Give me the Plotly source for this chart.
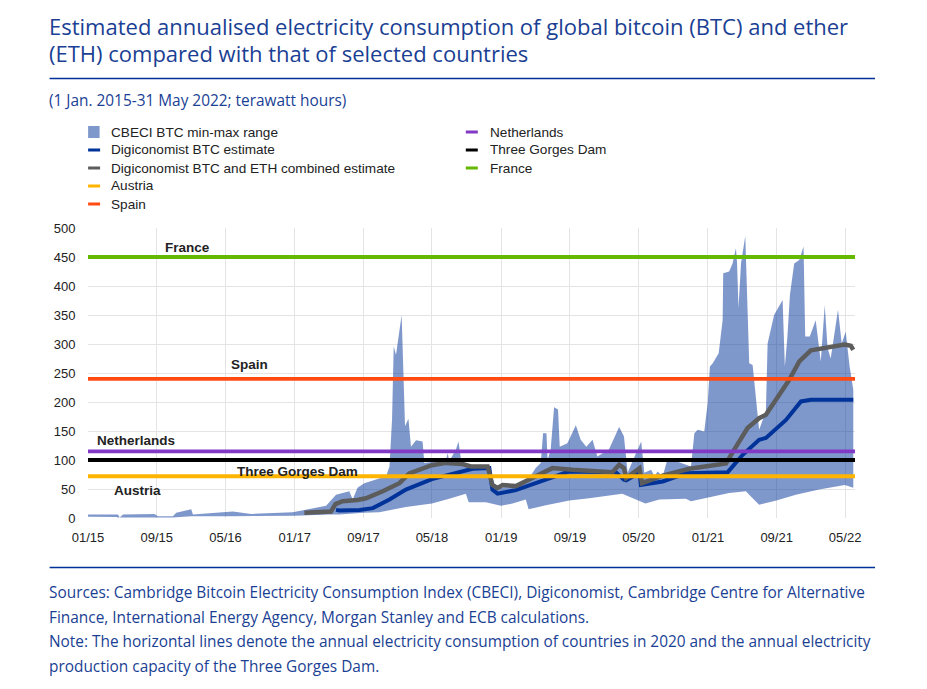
import pandas as pd
import plotly.graph_objects as go

START = pd.Timestamp("2015-01-01")
def to_dates(days):
    return [START + pd.Timedelta(days=d) for d in days]

upper_days = [0,106,112,124,235,247,300,312,365,371,512,577,724,818,842,877,924,936,953,977,1054,1066,1075,1081,1089,1109,1115,1121,1133,1142,1160,1183,1189,1266,1272,1277,1301,1310,1319,1342,1419,1430,1548,1583,1601,1609,1621,1625,1636,1648,1662,1668,1695,1725,1742,1762,1784,1801,1842,1878,1895,1908,1938,1956,1967,1991,2003,2014,2032,2050,2132,2144,2156,2179,2191,2199,2209,2230,2244,2246,2267,2279,2291,2295,2300,2309,2324,2332,2338,2350,2364,2373,2397,2403,2426,2456,2464,2473,2482,2497,2515,2530,2536,2552,2573,2591,2605,2615,2626,2652,2665,2679,2693,2706]
upper_vals = [6,6,1,6,7,3,3,9,15,6,11,7,10,19,21,40,46,32,52,60,72,89,169,296,281,350,250,158,171,123,134,132,95,100,112,98,118,132,100,86,86,49,60,86,95,146,146,100,118,191,187,123,129,160,135,123,135,106,118,157,141,78,112,132,78,83,72,80,72,103,89,146,152,149,198,261,267,284,341,422,425,439,465,440,362,439,486,370,267,264,187,152,184,301,350,376,261,313,385,439,445,468,313,313,341,270,367,293,275,359,301,321,261,221]
lower_days = [0,240,300,365,512,731,850,889,974,1030,1066,1124,1216,1277,1336,1346,1407,1460,1501,1548,1558,1619,1702,1772,1889,1926,1971,2020,2114,2132,2193,2267,2326,2344,2373,2434,2503,2585,2676,2706]
lower_vals = [2,1,1,3,3,4,6,6,9,10,13,19,25,33,42,27,27,21,25,32,15,22,30,34,42,34,25,32,33,29,36,43,46,37,23,30,40,49,57,52]
blue_days = [877,889,960,1007,1066,1124,1216,1277,1360,1419,1430,1448,1513,1583,1642,1700,1866,1895,1903,1950,1955,2032,2114,2262,2315,2373,2397,2468,2521,2556,2706]
blue_vals = [14,13,14,17,32,49,67,75,85,86,49,42,48,60,71,80,79,66,65,78,57,63,77,79,109,135,138,169,201,204,204]
grey_days = [765,859,875,900,953,983,1042,1101,1136,1216,1266,1324,1354,1413,1430,1448,1466,1513,1583,1642,1713,1854,1878,1895,1903,1950,1959,2032,2126,2256,2285,2332,2373,2397,2479,2515,2556,2609,2676,2697,2706]
grey_vals = [9,11,24,29,31,34,46,60,77,91,95,93,89,89,57,52,57,55,72,86,83,79,92,86,69,86,60,73,85,94,118,155,172,178,238,270,289,294,299,297,290]

tick_dates = ["2015-01-01","2015-09-01","2016-05-01","2017-01-01","2017-09-01","2018-05-01","2019-01-01","2019-09-01","2020-05-01","2021-01-01","2021-09-01","2022-05-01"]
tick_labels = ["01/15","09/15","05/16","01/17","09/17","05/18","01/19","09/19","05/20","01/21","09/21","05/22"]

reference_names = ["Austria","Spain","Netherlands","Three Gorges Dam","France"]
reference_vals = [72,240,115,100,450]
reference_cols = ["#ffb400","#ff4b12","#8139c6","#000000","#65b800"]
span = ["2015-01-01","2022-06-05"]

INK = "#1a3f94"
TXT = "#222222"
L, R, T, B = 88.4, 855, 228, 518
def px(x): return (x - L) / (R - L)
def py(y): return (B - y) / (B - T)

fig = go.Figure()
ux = to_dates(upper_days); lx = to_dates(lower_days)
fig.add_trace(go.Scatter(x=ux+lx[::-1], y=upper_vals+lower_vals[::-1], mode="lines", fill="toself",
    fillcolor="rgba(0,50,153,0.5)", line=dict(width=0), name="CBECI BTC min-max range"))
fig.add_trace(go.Scatter(x=to_dates(blue_days), y=blue_vals, mode="lines", line=dict(color="#003399", width=4),
    name="Digiconomist BTC estimate"))
fig.add_trace(go.Scatter(x=to_dates(grey_days), y=grey_vals, mode="lines", line=dict(color="#5c5c5c", width=4.5),
    name="Digiconomist BTC and ETH combined estimate"))
for n, v, c in zip(reference_names, reference_vals, reference_cols):
    fig.add_trace(go.Scatter(x=span, y=[v, v], mode="lines", line=dict(color=c, width=3.8), name=n))

fig.update_layout(
    width=927, height=689, paper_bgcolor="white", plot_bgcolor="white", showlegend=False,
    margin=dict(l=L, r=927-R, t=T, b=689-B), hovermode=False,
    font=dict(family="Liberation Sans", size=13, color=TXT),
    xaxis=dict(type="date", range=["2015-01-01","2022-06-05"], tickvals=tick_dates, ticktext=tick_labels,
        ticks="outside", ticklen=7, tickcolor="white",
        showgrid=True, gridcolor="#e4e4e4", gridwidth=1, zeroline=False, showline=False, tickangle=0,
        tickfont=dict(size=13, color=TXT)),
    yaxis=dict(range=[0,500], tickvals=list(range(0,501,50)), ticks="outside", ticklen=9, tickcolor="white",
        showgrid=True, gridcolor="#e4e4e4", gridwidth=1,
        zeroline=False, showline=False, tickfont=dict(size=13, color=TXT)),
)

def label(text, day, y):
    fig.add_annotation(text=f"<b>{text}</b>", x=to_dates([day])[0], y=y, xref="x", yref="y", showarrow=False,
        font=dict(family="Liberation Sans", size=13.5, color=TXT))
label("France", 352, 467)
label("Spain", 572, 265)
label("Netherlands", 168, 134)
label("Three Gorges Dam", 741, 81)
label("Austria", 175, 48)

def text(s, x, y, size, family="Open Sans", color=INK):
    fig.add_annotation(text=s, x=px(x), y=py(y), xref="paper", yref="paper", showarrow=False, xanchor="left",
        yanchor="middle", align="left", font=dict(family=family, size=size, color=color))
text("Estimated annualised electricity consumption of global bitcoin (BTC) and ether", 47, 26, 22)
text("(ETH) compared with that of selected countries", 47, 53, 22)
text("(1 Jan. 2015-31 May 2022; terawatt hours)", 47, 101, 15.4)
text("Sources: Cambridge Bitcoin Electricity Consumption Index (CBECI), Digiconomist, Cambridge Centre for Alternative", 47, 592, 15.4)
text("Finance, International Energy Agency, Morgan Stanley and ECB calculations.", 47, 617, 15.4)
text("Note: The horizontal lines denote the annual electricity consumption of countries in 2020 and the annual electricity", 47, 641, 15.4)
text("production capacity of the Three Gorges Dam.", 47, 666, 15.4)

for y in (78.5, 567.5):
    fig.add_shape(type="line", xref="paper", yref="paper", x0=px(50), x1=px(875), y0=py(y), y1=py(y),
        line=dict(color="#003299", width=1.5), layer="above")

# legend, two columns, compact swatches
names = [t.name for t in fig.data]
colors = [None, "#003399", "#5c5c5c"] + reference_cols
for i in range(8):
    col = 0 if i < 5 else 1
    row = i if i < 5 else i - 5
    x0 = 88.5 if col == 0 else 466
    yc = 132 + 18 * row
    if colors[i] is None:
        fig.add_shape(type="rect", xref="paper", yref="paper", x0=px(x0), x1=px(x0+11.5), y0=py(yc-6), y1=py(yc+6),
            fillcolor="rgba(0,50,153,0.5)", line=dict(width=0))
    else:
        fig.add_shape(type="line", xref="paper", yref="paper", x0=px(x0), x1=px(x0+12), y0=py(yc), y1=py(yc),
            line=dict(color=colors[i], width=3))
    text(names[i], x0 + (21 if col == 0 else 22), yc, 13.6, family="Liberation Sans", color=TXT)

fig.write_html("out.html", post_script="document.body.style.margin='0';", config={"displayModeBar": False})
